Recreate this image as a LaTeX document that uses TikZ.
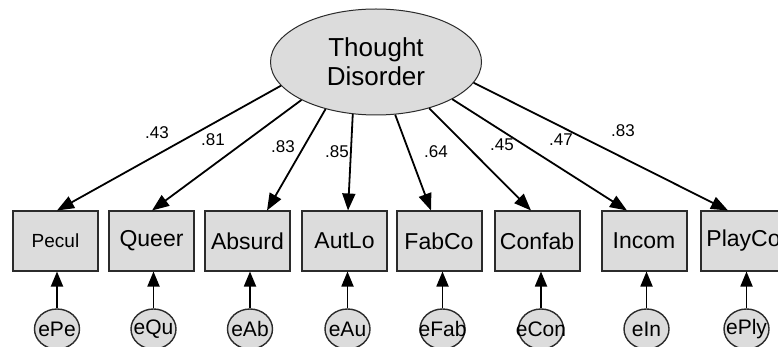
\documentclass[tikz,border=0pt]{standalone}
\usepackage{fontspec}
\setmainfont{Liberation Sans}
\usetikzlibrary{shapes.geometric,arrows.meta}
\definecolor{fillg}{HTML}{DCDCDC}
\definecolor{edgec}{HTML}{2B2B2B}
\begin{document}
\begin{tikzpicture}[x=1pt,y=-1pt,
  obs/.style={rectangle,draw=edgec,line width=2pt,fill=fillg,minimum width=85pt,minimum height=59pt,inner sep=0pt,font=\fontsize{23}{27}\selectfont},
  err/.style={ellipse,draw=edgec,line width=1.4pt,fill=fillg,minimum width=45pt,minimum height=40pt,inner sep=0pt,font=\fontsize{21}{24}\selectfont},
  lat/.style={ellipse,draw=edgec,line width=1pt,fill=fillg,minimum width=211pt,minimum height=106pt,inner sep=0pt,align=center,font=\fontsize{26}{29}\selectfont},
  load/.style={font=\fontsize{17}{20}\selectfont,inner sep=0pt},
  arr/.style={line width=1.8pt,-{Triangle[length=17pt,width=13pt]}},
  earr/.style={line width=1.8pt,-{Triangle[length=15pt,width=12pt]}}
]
\useasboundingbox (0,0) rectangle (778,347);
\clip (0,0) rectangle (778,347);
\fill[white] (0,0) rectangle (778,347);

\node[lat] (td) at (376,62) {Thought\\Disorder};

\node[obs,font=\fontsize{19}{23}\selectfont] (pe) at (55.5,241) {Pecul};
\node[obs] (qu) at (151.5,241) {Queer};
\node[obs] (ab) at (247.5,241) {Absurd};
\node[obs] (au) at (344.5,241) {AutLo};
\node[obs] (fa) at (439,241) {FabCo};
\node[obs] (co) at (537,241) {Confab};
\node[obs] (in) at (644,241) {Incom};
\node[obs] (pl) at (743.5,241) {PlayCo};

\node[err] (ePe) at (57,329) {\makebox[0pt]{ePe}};
\node[err] (eQu) at (153.5,329) {\makebox[0pt]{eQu}};
\node[err] (eAb) at (250,329) {\makebox[0pt]{eAb}};
\node[err] (eAu) at (347.5,329) {\makebox[0pt]{eAu}};
\node[err] (eFab) at (442.5,329) {\makebox[0pt]{eFab}};
\node[err] (eCon) at (541,329) {\makebox[0pt]{eCon}};
\node[err] (eIn) at (646.5,329) {\makebox[0pt]{eIn}};
\node[err] (ePly) at (746.5,329) {\makebox[0pt]{ePly}};

\draw[arr] (td.194) -- ([xshift=1.5pt]pe.north);
\draw[arr] (td.207) -- ([xshift=0.5pt]qu.north);
\draw[arr] (td.223) -- ([xshift=19.5pt]ab.north);
\draw[arr] (td.246) -- ([xshift=3.5pt]au.north);
\draw[arr] (td.290) -- ([xshift=-8pt]fa.north);
\draw[arr] (td.319) -- ([xshift=-6pt]co.north);
\draw[arr] (td.334) -- ([xshift=-17pt]in.north);
\draw[arr] (td.348) -- ([xshift=-15.5pt]pl.north);

\foreach \e/\b in {ePe/pe,eQu/qu,eAb/ab,eAu/au,eFab/fa,eCon/co,eIn/in,ePly/pl}
  \draw[earr] (\e.north) -- (\e.north |- \b.south);

\node[load] (l1) at (157,133) {.43};
\node[load] (l2) at (213,140) {.81};
\node[load] (l3) at (283,147) {.83};
\node[load] (l4) at (337,152) {.85};
\node[load] (l5) at (436,152) {.64};
\node[load] (l6) at (502,145) {.45};
\node[load] (l7) at (561,140) {.47};
\node[load] (l8) at (623,131) {.83};
\end{tikzpicture}
\end{document}
